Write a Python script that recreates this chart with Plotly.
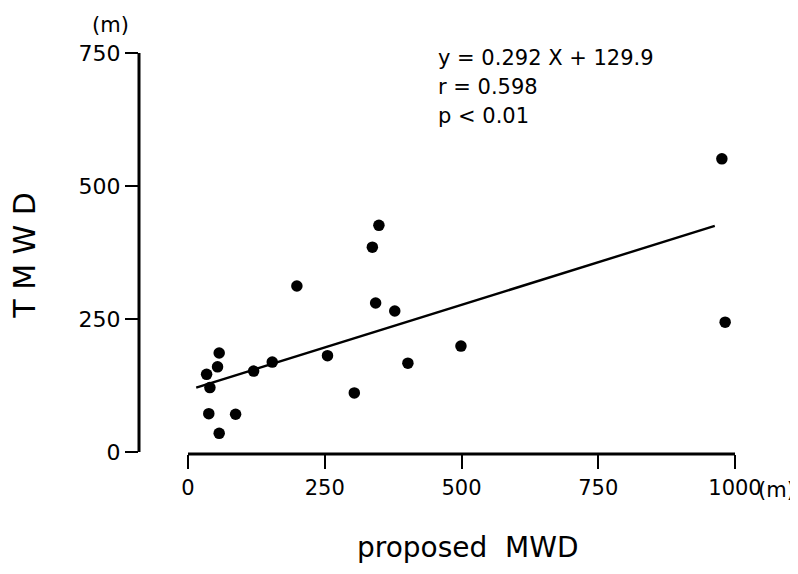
# %% IMPORTS
import plotly.graph_objects as go

# %% DATA
# proposed MWD (x) and TMWD (y), both in metres
proposed_mwd = [57, 54, 34, 40, 38, 87, 57, 120, 154, 255, 304, 402, 499, 982,
                199, 337, 349, 343, 378, 976]
tmwd = [186, 160, 146, 121, 72, 71, 35, 152, 169, 181, 111, 167, 199, 244,
        312, 385, 426, 280, 265, 551]

# end points of the regression line as drawn
fit_x = [15, 963]
fit_y = [121, 425]

x_ticks = [0, 250, 500, 750, 1000]
x_tick_labels = ['0', '250', '500', '750', '1000']
y_ticks = [0, 250, 500, 750]
y_tick_labels = ['0', '250', '500', '750']

stats_lines = ['y = 0.292 X + 129.9', 'r = 0.598', 'p < 0.01']

# %% FIGURE
font_name = 'DejaVu Sans, Arial, sans-serif'
fig = go.Figure()

# regression line
fig.add_trace(go.Scatter(x = fit_x, y = fit_y, mode = 'lines', line = dict(color = 'black', width = 2.4), hoverinfo = 'skip'))

# scatter points
fig.add_trace(go.Scatter(x = proposed_mwd, y = tmwd, mode = 'markers', marker = dict(color = 'black', size = 11.5)))

fig.update_xaxes(range = [-89.6, 1000], tickvals = x_ticks, ticktext = x_tick_labels, showline = False, showgrid = False,
                 zeroline = False, ticks = 'outside', ticklen = 14, tickwidth = 2, tickcolor = 'black',
                 tickfont = dict(family = font_name, size = 21, color = 'black'), ticklabelstandoff = 1)
fig.update_yaxes(range = [-3.8, 750], tickvals = y_ticks, ticktext = y_tick_labels, showline = False, showgrid = False,
                 zeroline = False, ticks = 'outside', ticklen = 13, tickwidth = 2, tickcolor = 'black',
                 tickfont = dict(family = font_name, size = 22, color = 'black'), ticklabelstandoff = 0)

# axis lines: x axis starts at 0, y axis stops at 750 (the two do not meet)
fig.add_shape(type = 'line', xref = 'x', yref = 'paper', x0 = 0, x1 = 1000, y0 = 0, y1 = 0, line = dict(color = 'black', width = 3))
fig.add_shape(type = 'line', xref = 'paper', yref = 'y', x0 = 0, x1 = 0, y0 = 0, y1 = 750, line = dict(color = 'black', width = 3))

# units, axis titles
fig.add_annotation(text = '(m)', xref = 'paper', yref = 'paper', x = -0.047, y = 1.07, xanchor = 'center', yanchor = 'middle',
                   showarrow = False, font = dict(family = font_name, size = 21, color = 'black'))
fig.add_annotation(text = '(m)', xref = 'paper', yref = 'paper', x = 1.069, y = -0.09, xanchor = 'center', yanchor = 'middle',
                   showarrow = False, font = dict(family = font_name, size = 21, color = 'black'))
fig.add_annotation(text = 'T M W D', xref = 'paper', yref = 'paper', x = -0.192, y = 0.496, textangle = -90, xanchor = 'center',
                   yanchor = 'middle', showarrow = False, font = dict(family = font_name, size = 30, color = 'black'))
fig.add_annotation(text = 'proposed  MWD', xref = 'paper', yref = 'paper', x = 0.552, y = -0.279, xanchor = 'center', yanchor = 'bottom',
                   showarrow = False, font = dict(family = font_name, size = 28, color = 'black'))

# fit statistics, one line each
for i, line in enumerate(stats_lines):
    fig.add_annotation(text = line, xref = 'paper', yref = 'paper', x = 0.498, y = 0.9875 - i * 0.0723, xanchor = 'left',
                       yanchor = 'middle', showarrow = False, font = dict(family = font_name, size = 21, color = 'black'))
#

# the page body adds an 8px margin: keep the height inside the window, let the width run to its right edge
fig.update_layout(width = 790, height = 558, margin = dict(l = 131, r = 63, t = 45, b = 112), showlegend = False,
                  plot_bgcolor = 'white', paper_bgcolor = 'white')

fig.write_html('out.html')
